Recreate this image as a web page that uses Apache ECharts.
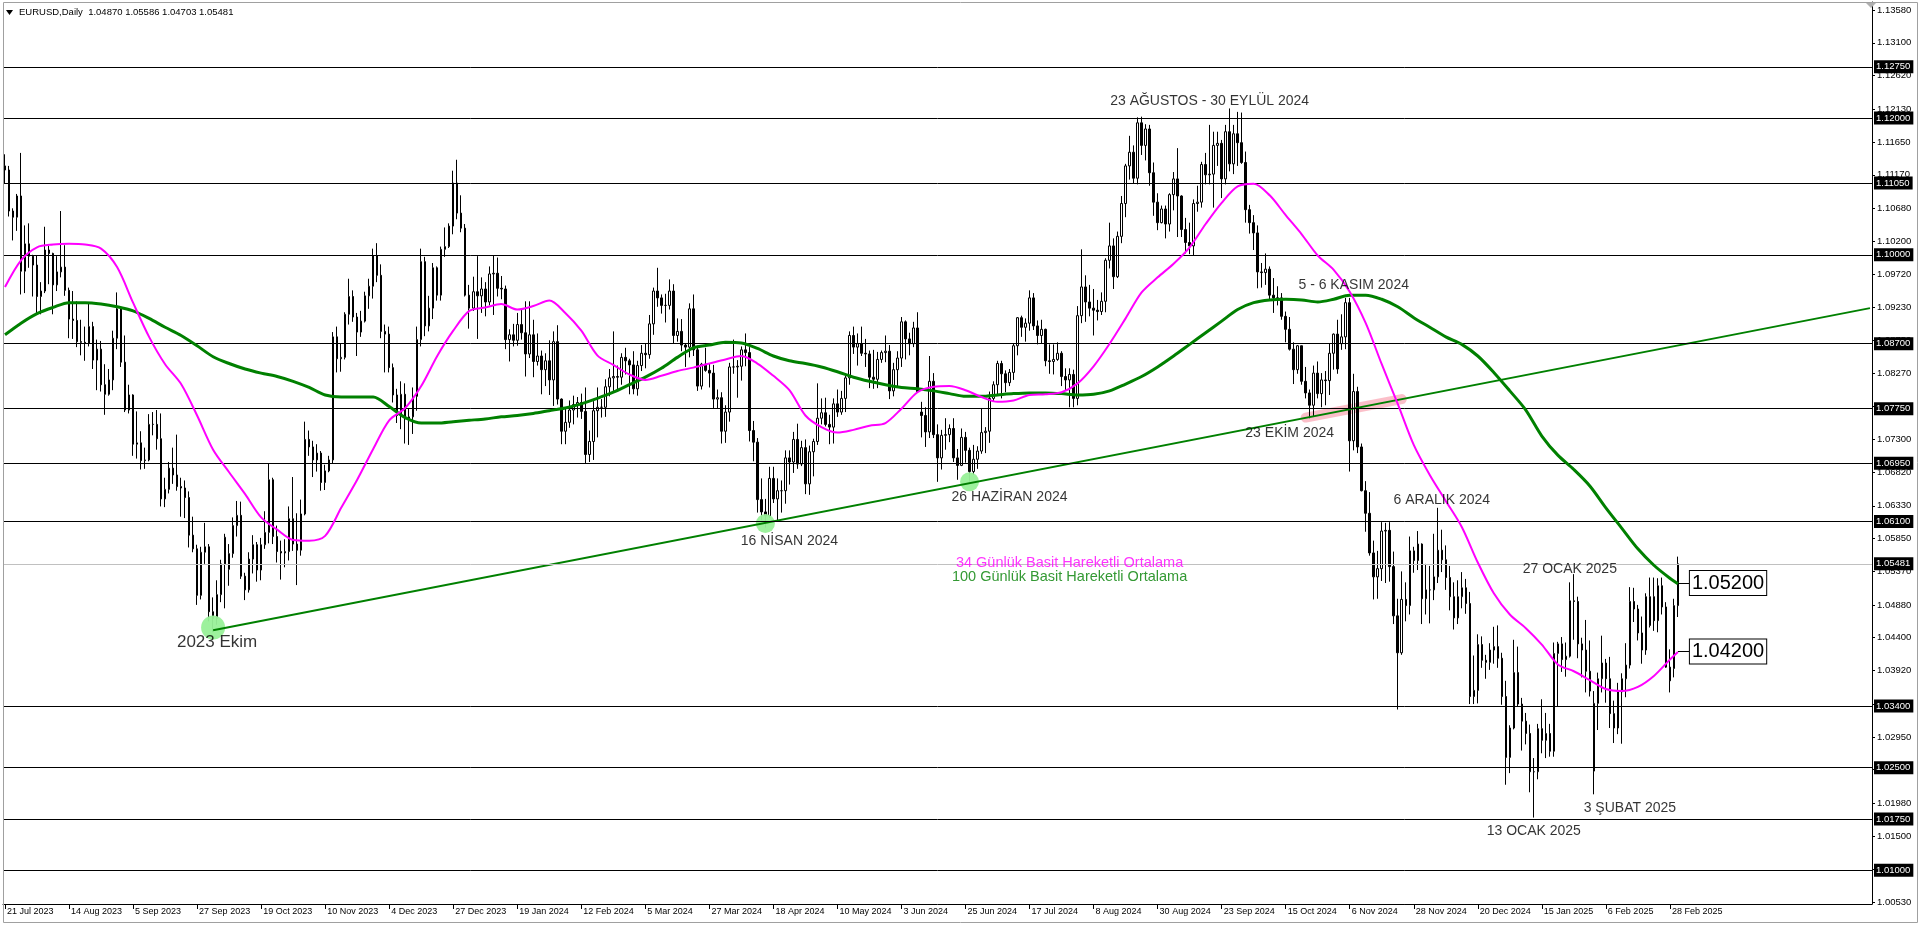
<!DOCTYPE html>
<html><head><meta charset="utf-8">
<script src="https://cdn.jsdelivr.net/npm/echarts@6/dist/echarts.min.js"></script>
<style>html,body{margin:0;padding:0;background:#fff}#c{width:1920px;height:927px}</style>
</head><body><div id="c"></div>
<script>
// ---------- DATA ----------
const symbolTitle = 'EURUSD,Daily';
const startDate = [2023, 6, 21];           // 21 Jul 2023 (first bar)
const holidays = ['2023-12-25','2024-01-01','2024-12-25','2025-01-01'];
const futureSlots = 48;                    // empty bars to the right (chart shift)

// daily candles: [open, high, low, close]
const candles = [
[1.1130,1.1147,1.1105,1.1124],[1.1124,1.1130,1.1056,1.1064],[1.1064,1.1068,1.1021,1.1055],[1.1055,1.1089,1.1035,1.1086],[1.1086,1.1149,1.0942,1.0976],
[1.0976,1.1043,1.0944,1.1016],[1.1016,1.1046,1.0981,1.0998],[1.0998,1.1000,1.0939,1.0985],[1.0985,1.0999,1.0912,1.0939],[1.0939,1.0960,1.0913,1.0947],
[1.0947,1.1041,1.0944,1.1007],[1.1007,1.1013,1.0957,1.1002],[1.1002,1.1003,1.0913,1.0956],[1.0956,1.0998,1.0947,1.0975],[1.0975,1.1064,1.0967,1.0982],
[1.0982,1.1014,1.0940,1.0948],[1.0948,1.0952,1.0878,1.0906],[1.0906,1.0947,1.0877,1.0904],[1.0904,1.0932,1.0865,1.0873],[1.0873,1.0905,1.0853,1.0872],
[1.0872,1.0895,1.0845,1.0871],[1.0871,1.0930,1.0866,1.0895],[1.0895,1.0902,1.0833,1.0846],[1.0846,1.0876,1.0802,1.0862],[1.0862,1.0874,1.0800,1.0810],
[1.0810,1.0840,1.0766,1.0796],[1.0796,1.0833,1.0794,1.0817],[1.0817,1.0889,1.0802,1.0878],[1.0878,1.0945,1.0862,1.0921],[1.0921,1.0925,1.0836,1.0843],
[1.0843,1.0882,1.0770,1.0773],[1.0773,1.0810,1.0768,1.0795],[1.0795,1.0796,1.0706,1.0723],[1.0723,1.0771,1.0702,1.0725],[1.0725,1.0742,1.0686,1.0699],
[1.0699,1.0718,1.0687,1.0700],[1.0700,1.0767,1.0698,1.0752],[1.0752,1.0770,1.0736,1.0752],[1.0752,1.0773,1.0715,1.0731],[1.0731,1.0768,1.0632,1.0643],
[1.0643,1.0674,1.0631,1.0657],[1.0657,1.0697,1.0651,1.0688],[1.0688,1.0718,1.0665,1.0678],[1.0678,1.0737,1.0655,1.0661],[1.0661,1.0674,1.0617,1.0659],
[1.0659,1.0670,1.0615,1.0645],[1.0645,1.0654,1.0572,1.0590],[1.0590,1.0617,1.0565,1.0570],[1.0570,1.0576,1.0488,1.0502],[1.0502,1.0573,1.0496,1.0565],
[1.0565,1.0608,1.0548,1.0573],[1.0573,1.0577,1.0464,1.0478],[1.0478,1.0499,1.0448,1.0468],[1.0468,1.0524,1.0459,1.0503],[1.0503,1.0554,1.0492,1.0548],
[1.0548,1.0592,1.0483,1.0587],[1.0540,1.0577,1.0516,1.0563],[1.0563,1.0616,1.0557,1.0604],[1.0604,1.0640,1.0588,1.0619],[1.0619,1.0639,1.0526,1.0530],
[1.0530,1.0535,1.0495,1.0510],[1.0510,1.0565,1.0506,1.0555],[1.0555,1.0590,1.0534,1.0576],[1.0576,1.0580,1.0522,1.0539],[1.0539,1.0586,1.0524,1.0576],
[1.0576,1.0625,1.0570,1.0594],[1.0594,1.0695,1.0578,1.0671],[1.0671,1.0674,1.0577,1.0588],[1.0588,1.0604,1.0550,1.0566],[1.0566,1.0582,1.0525,1.0564],
[1.0564,1.0584,1.0543,1.0566],[1.0566,1.0632,1.0553,1.0614],[1.0614,1.0675,1.0567,1.0577],[1.0577,1.0622,1.0517,1.0568],[1.0568,1.0642,1.0560,1.0621],
[1.0621,1.0756,1.0619,1.0730],[1.0730,1.0743,1.0706,1.0719],[1.0719,1.0728,1.0675,1.0700],[1.0700,1.0723,1.0683,1.0710],[1.0710,1.0713,1.0655,1.0667],
[1.0667,1.0693,1.0656,1.0684],[1.0684,1.0706,1.0682,1.0700],[1.0700,1.0887,1.0695,1.0880],[1.0880,1.0895,1.0828,1.0848],[1.0848,1.0871,1.0829,1.0850],
[1.0850,1.0916,1.0847,1.0913],[1.0913,1.0965,1.0898,1.0939],[1.0939,1.0948,1.0902,1.0909],[1.0909,1.0915,1.0852,1.0887],[1.0887,1.0918,1.0880,1.0903],
[1.0903,1.0946,1.0901,1.0940],[1.0940,1.0965,1.0921,1.0954],[1.0954,1.1009,1.0936,1.0999],[1.0999,1.1017,1.0960,1.0970],[1.0970,1.0986,1.0878,1.0888],
[1.0888,1.0898,1.0828,1.0884],[1.0884,1.0895,1.0828,1.0835],[1.0835,1.0841,1.0784,1.0795],[1.0795,1.0804,1.0754,1.0765],[1.0765,1.0815,1.0745,1.0796],
[1.0796,1.0812,1.0724,1.0760],[1.0760,1.0775,1.0722,1.0763],[1.0763,1.0806,1.0738,1.0793],[1.0793,1.0895,1.0772,1.0876],[1.0876,1.1009,1.0866,1.0990],
[1.0990,1.0997,1.0881,1.0896],[1.0896,1.0940,1.0888,1.0922],[1.0922,1.0988,1.0906,1.0981],[1.0981,1.0983,1.0933,1.0941],[1.0941,1.1012,1.0933,1.1008],
[1.1008,1.1040,1.0997,1.1012],[1.1012,1.1046,1.1010,1.1042],[1.1042,1.1123,1.1030,1.1105],[1.1105,1.1139,1.1052,1.1061],[1.1061,1.1087,1.1033,1.1039],
[1.1039,1.1045,1.0939,1.0941],[1.0941,1.0956,1.0892,1.0922],[1.0922,1.0968,1.0918,1.0946],[1.0946,1.0998,1.0877,1.0940],[1.0940,1.0967,1.0915,1.0950],
[1.0950,1.0960,1.0910,1.0931],[1.0931,1.0983,1.0926,1.0972],[1.0972,1.0999,1.0912,1.0973],[1.0973,1.0996,1.0939,1.0951],[1.0951,1.0969,1.0935,1.0950],
[1.0950,1.0955,1.0862,1.0876],[1.0876,1.0891,1.0844,1.0883],[1.0883,1.0899,1.0866,1.0875],[1.0875,1.0915,1.0867,1.0898],[1.0898,1.0920,1.0876,1.0886],
[1.0886,1.0932,1.0822,1.0855],[1.0855,1.0932,1.0849,1.0883],[1.0883,1.0905,1.0821,1.0844],[1.0844,1.0885,1.0838,1.0852],[1.0852,1.0860,1.0796,1.0832],
[1.0832,1.0856,1.0808,1.0845],[1.0845,1.0875,1.0795,1.0817],[1.0817,1.0888,1.0779,1.0873],[1.0873,1.0897,1.0781,1.0789],[1.0789,1.0790,1.0723,1.0742],
[1.0742,1.0776,1.0723,1.0755],[1.0755,1.0787,1.0747,1.0773],[1.0773,1.0794,1.0752,1.0781],[1.0781,1.0792,1.0762,1.0784],[1.0784,1.0797,1.0760,1.0771],
[1.0771,1.0806,1.0695,1.0708],[1.0708,1.0743,1.0697,1.0727],[1.0727,1.0786,1.0700,1.0772],[1.0772,1.0806,1.0733,1.0777],[1.0777,1.0789,1.0762,1.0777],
[1.0777,1.0818,1.0763,1.0807],[1.0807,1.0833,1.0793,1.0820],[1.0820,1.0888,1.0801,1.0822],[1.0822,1.0838,1.0802,1.0821],[1.0821,1.0856,1.0810,1.0850],
[1.0850,1.0864,1.0825,1.0845],[1.0845,1.0848,1.0796,1.0839],[1.0839,1.0859,1.0796,1.0804],[1.0804,1.0845,1.0794,1.0838],[1.0838,1.0868,1.0830,1.0856],
[1.0856,1.0870,1.0834,1.0854],[1.0854,1.0912,1.0848,1.0899],[1.0899,1.0952,1.0883,1.0947],[1.0947,1.0981,1.0924,1.0937],[1.0937,1.0942,1.0914,1.0926],
[1.0926,1.0943,1.0901,1.0926],[1.0926,1.0964,1.0920,1.0947],[1.0947,1.0957,1.0870,1.0882],[1.0882,1.0907,1.0873,1.0888],[1.0888,1.0906,1.0859,1.0868],
[1.0868,1.0871,1.0836,1.0865],[1.0865,1.0929,1.0850,1.0921],[1.0921,1.0942,1.0852,1.0861],[1.0861,1.0867,1.0801,1.0808],[1.0808,1.0842,1.0803,1.0840],
[1.0840,1.0864,1.0829,1.0831],[1.0831,1.0841,1.0806,1.0827],[1.0827,1.0839,1.0776,1.0789],[1.0789,1.0803,1.0776,1.0791],[1.0791,1.0799,1.0724,1.0742],
[1.0742,1.0780,1.0725,1.0770],[1.0770,1.0842,1.0756,1.0836],[1.0836,1.0876,1.0826,1.0836],[1.0836,1.0846,1.0791,1.0837],[1.0837,1.0866,1.0816,1.0861],
[1.0861,1.0885,1.0837,1.0857],[1.0857,1.0865,1.0727,1.0743],[1.0743,1.0757,1.0698,1.0726],[1.0726,1.0732,1.0623,1.0642],[1.0642,1.0673,1.0612,1.0624],
[1.0624,1.0643,1.0601,1.0618],[1.0618,1.0690,1.0615,1.0673],[1.0673,1.0690,1.0637,1.0643],[1.0643,1.0673,1.0610,1.0655],[1.0655,1.0670,1.0623,1.0655],
[1.0655,1.0714,1.0636,1.0703],[1.0703,1.0714,1.0664,1.0697],[1.0697,1.0741,1.0681,1.0730],[1.0730,1.0753,1.0687,1.0694],[1.0694,1.0728,1.0691,1.0718],
[1.0718,1.0730,1.0650,1.0665],[1.0665,1.0721,1.0649,1.0712],[1.0712,1.0731,1.0676,1.0727],[1.0727,1.0812,1.0722,1.0761],[1.0761,1.0790,1.0752,1.0769],
[1.0769,1.0791,1.0749,1.0752],[1.0752,1.0766,1.0723,1.0748],[1.0748,1.0790,1.0724,1.0782],[1.0782,1.0803,1.0763,1.0770],[1.0770,1.0801,1.0766,1.0790],
[1.0790,1.0825,1.0770,1.0820],[1.0820,1.0888,1.0810,1.0882],[1.0882,1.0895,1.0855,1.0865],[1.0865,1.0885,1.0838,1.0870],[1.0870,1.0895,1.0852,1.0856],
[1.0856,1.0877,1.0836,1.0855],[1.0855,1.0860,1.0805,1.0821],[1.0821,1.0861,1.0804,1.0818],[1.0818,1.0858,1.0805,1.0847],[1.0847,1.0860,1.0842,1.0857],
[1.0857,1.0882,1.0843,1.0859],[1.0859,1.0868,1.0789,1.0801],[1.0801,1.0842,1.0793,1.0832],[1.0832,1.0859,1.0808,1.0849],[1.0849,1.0909,1.0836,1.0902],
[1.0902,1.0904,1.0847,1.0877],[1.0877,1.0886,1.0853,1.0870],[1.0870,1.0902,1.0865,1.0893],[1.0893,1.0916,1.0799,1.0800],[1.0770,1.0785,1.0733,1.0765],
[1.0765,1.0777,1.0719,1.0741],[1.0741,1.0852,1.0732,1.0815],[1.0815,1.0827,1.0732,1.0737],[1.0737,1.0752,1.0668,1.0703],[1.0703,1.0744,1.0686,1.0736],
[1.0736,1.0761,1.0715,1.0737],[1.0737,1.0752,1.0726,1.0746],[1.0746,1.0761,1.0697,1.0703],[1.0703,1.0716,1.0671,1.0692],[1.0692,1.0746,1.0691,1.0733],
[1.0733,1.0741,1.0696,1.0714],[1.0714,1.0718,1.0668,1.0683],[1.0683,1.0722,1.0678,1.0701],[1.0701,1.0720,1.0687,1.0713],[1.0713,1.0776,1.0709,1.0740],
[1.0740,1.0748,1.0710,1.0742],[1.0742,1.0800,1.0725,1.0790],[1.0790,1.0815,1.0785,1.0810],[1.0810,1.0845,1.0796,1.0841],[1.0841,1.0845,1.0790,1.0826],
[1.0826,1.0831,1.0799,1.0813],[1.0813,1.0833,1.0808,1.0828],[1.0828,1.0871,1.0817,1.0867],[1.0867,1.0909,1.0853,1.0908],[1.0908,1.0911,1.0880,1.0894],
[1.0894,1.0907,1.0873,1.0900],[1.0900,1.0948,1.0889,1.0937],[1.0937,1.0944,1.0890,1.0896],[1.0896,1.0904,1.0869,1.0882],[1.0882,1.0905,1.0871,1.0891],
[1.0891,1.0892,1.0837,1.0845],[1.0845,1.0869,1.0826,1.0844],[1.0844,1.0869,1.0825,1.0847],[1.0847,1.0872,1.0845,1.0856],[1.0856,1.0859,1.0808,1.0822],
[1.0822,1.0834,1.0802,1.0817],[1.0817,1.0834,1.0777,1.0825],[1.0825,1.0832,1.0777,1.0790],[1.0790,1.0925,1.0780,1.0911],[1.0911,1.1008,1.0900,1.0953],
[1.0953,1.0970,1.0902,1.0931],[1.0931,1.0956,1.0910,1.0922],[1.0922,1.0950,1.0882,1.0919],[1.0919,1.0934,1.0904,1.0917],[1.0917,1.0945,1.0912,1.0932],
[1.0932,1.0995,1.0916,1.0992],[1.0992,1.1047,1.0980,1.1013],[1.1013,1.1024,1.0950,1.0968],[1.0968,1.1034,1.0966,1.1027],[1.1027,1.1086,1.1017,1.1075],
[1.1075,1.1133,1.1055,1.1130],[1.1130,1.1174,1.1110,1.1150],[1.1150,1.1160,1.1105,1.1112],[1.1112,1.1201,1.1103,1.1193],[1.1193,1.1202,1.1146,1.1160],
[1.1160,1.1191,1.1138,1.1184],[1.1184,1.1190,1.1101,1.1120],[1.1120,1.1135,1.1057,1.1077],[1.1077,1.1090,1.1036,1.1047],[1.1047,1.1072,1.1046,1.1067],
[1.1067,1.1072,1.1024,1.1045],[1.1045,1.1090,1.1034,1.1088],[1.1088,1.1121,1.1065,1.1111],[1.1111,1.1156,1.1026,1.1086],[1.1086,1.1087,1.1026,1.1037],
[1.1037,1.1054,1.1002,1.1018],[1.1018,1.1047,1.1001,1.1013],[1.1013,1.1081,1.0999,1.1075],[1.1075,1.1101,1.1063,1.1077],[1.1077,1.1136,1.1069,1.1132],
[1.1132,1.1149,1.1103,1.1117],[1.1117,1.1190,1.1103,1.1118],[1.1118,1.1180,1.1069,1.1160],[1.1160,1.1180,1.1130,1.1163],[1.1163,1.1168,1.1083,1.1111],
[1.1111,1.1190,1.1103,1.1180],[1.1180,1.1214,1.1122,1.1133],[1.1133,1.1190,1.1118,1.1177],[1.1177,1.1209,1.1130,1.1164],[1.1164,1.1208,1.1133,1.1135],
[1.1135,1.1151,1.1047,1.1066],[1.1066,1.1073,1.1031,1.1047],[1.1047,1.1058,1.1007,1.1032],[1.1032,1.1043,1.0951,1.0975],[1.0975,1.0988,1.0952,1.0974],
[1.0974,1.1002,1.0956,1.0979],[1.0979,1.0983,1.0935,1.0941],[1.0941,1.0966,1.0915,1.0937],[1.0937,1.0954,1.0926,1.0937],[1.0937,1.0944,1.0905,1.0910],
[1.0910,1.0917,1.0872,1.0891],[1.0891,1.0909,1.0860,1.0862],[1.0862,1.0872,1.0811,1.0832],[1.0832,1.0868,1.0826,1.0867],[1.0867,1.0867,1.0810,1.0815],
[1.0815,1.0836,1.0790,1.0798],[1.0798,1.0803,1.0761,1.0780],[1.0780,1.0838,1.0763,1.0827],[1.0827,1.0844,1.0790,1.0797],[1.0797,1.0827,1.0777,1.0817],
[1.0817,1.0830,1.0780,1.0816],[1.0816,1.0871,1.0795,1.0856],[1.0856,1.0885,1.0832,1.0884],[1.0884,1.0905,1.0826,1.0833],[1.0870,1.0913,1.0861,1.0880],
[1.0880,1.0937,1.0862,1.0930],[1.0930,1.0937,1.0683,1.0728],[1.0728,1.0826,1.0714,1.0800],[1.0800,1.0807,1.0710,1.0719],[1.0719,1.0724,1.0654,1.0655],
[1.0655,1.0669,1.0595,1.0622],[1.0622,1.0653,1.0560,1.0564],[1.0564,1.0582,1.0496,1.0529],[1.0529,1.0567,1.0497,1.0541],[1.0541,1.0609,1.0523,1.0596],
[1.0596,1.0608,1.0520,1.0597],[1.0597,1.0609,1.0522,1.0544],[1.0544,1.0566,1.0460,1.0472],[1.0472,1.0497,1.0335,1.0418],[1.0418,1.0537,1.0415,1.0496],
[1.0496,1.0521,1.0464,1.0487],[1.0487,1.0588,1.0474,1.0567],[1.0567,1.0573,1.0535,1.0553],[1.0553,1.0596,1.0539,1.0577],[1.0577,1.0578,1.0460,1.0497],
[1.0497,1.0548,1.0474,1.0510],[1.0510,1.0545,1.0461,1.0510],[1.0510,1.0592,1.0495,1.0529],[1.0529,1.0630,1.0520,1.0568],[1.0568,1.0598,1.0536,1.0554],
[1.0554,1.0575,1.0510,1.0528],[1.0528,1.0545,1.0480,1.0500],[1.0500,1.0521,1.0452,1.0469],[1.0469,1.0524,1.0460,1.0500],[1.0500,1.0536,1.0483,1.0513],
[1.0513,1.0526,1.0475,1.0490],[1.0490,1.0507,1.0343,1.0354],[1.0354,1.0414,1.0343,1.0363],[1.0363,1.0445,1.0344,1.0430],[1.0430,1.0442,1.0396,1.0407],
[1.0407,1.0415,1.0380,1.0404],[1.0404,1.0432,1.0393,1.0422],[1.0422,1.0456,1.0402,1.0427],[1.0427,1.0458,1.0396,1.0410],[1.0410,1.0418,1.0342,1.0354],
[1.0354,1.0377,1.0225,1.0265],[1.0265,1.0312,1.0242,1.0308],[1.0308,1.0437,1.0306,1.0389],[1.0389,1.0427,1.0340,1.0343],[1.0343,1.0352,1.0275,1.0318],
[1.0318,1.0330,1.0284,1.0300],[1.0300,1.0313,1.0214,1.0244],[1.0244,1.0264,1.0177,1.0244],[1.0244,1.0314,1.0233,1.0307],[1.0307,1.0350,1.0271,1.0290],
[1.0290,1.0330,1.0264,1.0300],[1.0300,1.0314,1.0266,1.0274],[1.0274,1.0433,1.0266,1.0417],[1.0417,1.0434,1.0339,1.0431],[1.0431,1.0441,1.0390,1.0408],
[1.0408,1.0433,1.0383,1.0413],[1.0413,1.0521,1.0411,1.0494],[1.0494,1.0533,1.0437,1.0493],[1.0493,1.0500,1.0410,1.0431],[1.0431,1.0440,1.0382,1.0422],
[1.0422,1.0466,1.0360,1.0391],[1.0391,1.0436,1.0354,1.0362],[1.0245,1.0362,1.0211,1.0344],[1.0344,1.0389,1.0305,1.0380],[1.0380,1.0443,1.0360,1.0403],
[1.0403,1.0409,1.0345,1.0380],[1.0380,1.0412,1.0308,1.0329],[1.0329,1.0348,1.0286,1.0308],[1.0308,1.0374,1.0299,1.0361],[1.0361,1.0388,1.0285,1.0380],
[1.0380,1.0432,1.0353,1.0400],[1.0400,1.0514,1.0395,1.0493],[1.0493,1.0513,1.0463,1.0482],[1.0482,1.0488,1.0436,1.0447],[1.0447,1.0471,1.0402,1.0422],
[1.0422,1.0505,1.0415,1.0500],[1.0500,1.0528,1.0455,1.0458],[1.0500,1.0528,1.0450,1.0465],[1.0465,1.0527,1.0448,1.0516],[1.0516,1.0528,1.0474,1.0485],
[1.0485,1.0492,1.0396,1.0397],[1.0397,1.0423,1.0360,1.0377],[1.0395,1.0497,1.0382,1.0487],[1.04870,1.05586,1.04703,1.05481]
];

// 34-day simple moving average: [bar index, value]
const ma34Points = [
[0,1.0953],[4,1.0992],[8,1.1011],[12,1.1015],[16,1.1016],[20,1.1015],[24,1.1009],[28,1.0982],[32,1.0930],[36,1.0880],
[40,1.0840],[44,1.0811],[48,1.0765],[52,1.0715],[56,1.0682],[60,1.0650],[64,1.0616],[68,1.0598],[72,1.0583],[76,1.0582],
[80,1.0589],[84,1.0630],[88,1.0671],[92,1.0716],[96,1.0758],[100,1.0776],[104,1.0808],[108,1.0852],[112,1.0889],[116,1.0918],
[120,1.0923],[124,1.0928],[128,1.0920],[132,1.0925],[136,1.0933],[140,1.0915],[144,1.0889],[148,1.0853],[152,1.0839],[156,1.0825],
[160,1.0817],[164,1.0823],[168,1.0830],[172,1.0835],[176,1.0841],[180,1.0847],[184,1.0852],[188,1.0841],[192,1.0823],[196,1.0802],
[200,1.0765],[204,1.0748],[208,1.0740],[212,1.0744],[216,1.0750],[220,1.0754],[224,1.0775],[228,1.0799],[232,1.0807],[236,1.0808],
[240,1.0802],[244,1.0792],[248,1.0785],[252,1.0787],[256,1.0795],[260,1.0796],[264,1.0799],[268,1.0812],[272,1.0837],[276,1.0870],
[280,1.0907],[284,1.0945],[288,1.0967],[292,1.0987],[296,1.1011],[300,1.1045],[304,1.1076],[308,1.1100],[312,1.1104],[316,1.1087],
[320,1.1058],[324,1.1030],[328,1.0999],[332,1.0978],[336,1.0946],[340,1.0900],[344,1.0840],[348,1.0782],[352,1.0722],[356,1.0678],
[360,1.0640],[364,1.0602],[368,1.0550],[372,1.0505],[376,1.0474],[380,1.0454],[384,1.0430],[388,1.0401],[392,1.0391],[396,1.0378],
[400,1.0365],[404,1.0362],[408,1.0368],[412,1.0384],[416,1.0408],[418,1.0419]
];

// 100-day simple moving average: [bar index, value]
const ma100Points = [
[0,1.0883],[4,1.0900],[8,1.0914],[12,1.0923],[16,1.0930],[20,1.0930],[24,1.0928],[28,1.0924],[32,1.0918],[36,1.0907],
[40,1.0894],[44,1.0882],[48,1.0867],[52,1.0851],[56,1.0841],[60,1.0833],[64,1.0827],[68,1.0822],[72,1.0815],[76,1.0806],
[80,1.0795],[84,1.0792],[88,1.0792],[92,1.0792],[96,1.0778],[100,1.0762],[104,1.0754],[108,1.0754],[112,1.0756],[116,1.0758],
[120,1.0760],[124,1.0763],[128,1.0765],[132,1.0768],[136,1.0772],[140,1.0776],[144,1.0782],[148,1.0790],[152,1.0799],[156,1.0810],
[160,1.0821],[164,1.0834],[168,1.0850],[172,1.0864],[176,1.0868],[180,1.0872],[184,1.0871],[188,1.0863],[192,1.0852],[196,1.0845],
[200,1.0841],[204,1.0836],[208,1.0829],[212,1.0821],[216,1.0815],[220,1.0810],[224,1.0806],[228,1.0804],[232,1.0801],[236,1.0797],
[240,1.0793],[244,1.0793],[248,1.0795],[252,1.0797],[256,1.0798],[260,1.0798],[264,1.0797],[268,1.0795],[272,1.0796],[276,1.0801],
[280,1.0811],[284,1.0822],[288,1.0836],[292,1.0852],[296,1.0869],[300,1.0886],[304,1.0903],[308,1.0920],[312,1.0930],[316,1.0934],
[320,1.0935],[324,1.0934],[328,1.0931],[332,1.0935],[336,1.0941],[340,1.0941],[344,1.0935],[348,1.0924],[352,1.0908],[356,1.0894],
[360,1.0880],[364,1.0869],[368,1.0852],[372,1.0828],[376,1.0801],[380,1.0773],[384,1.0735],[388,1.0707],[392,1.0686],[396,1.0662],
[400,1.0630],[404,1.0600],[408,1.0570],[412,1.0546],[416,1.0527],[418,1.0519]
];

// horizontal support / resistance levels
const levels = [1.12750, 1.12000, 1.11050, 1.10000, 1.08700, 1.07750, 1.06950, 1.06100, 1.03400, 1.02500, 1.01750, 1.01000];
const currentPrice = 1.05481;
const ohlcHeader = [1.04870, 1.05586, 1.04703, 1.05481];

// price scale ticks on the right axis
const yTicks = [1.13580,1.13100,1.12620,1.12130,1.11650,1.11170,1.10680,1.10200,1.09720,1.09230,1.08750,1.08270,1.07780,
                1.07300,1.06820,1.06330,1.05850,1.05370,1.04880,1.04400,1.03920,1.03430,1.02950,1.02470,1.01980,1.01500,1.01010,1.00530];
const yRange = [1.00506, 1.13697];

// rising trend line (bar index, price) and the touches marked on it
const trendPoints = [[52, 1.0451], [466, 1.0922]];
const touchPoints = [[52, 1.0455], [190, 1.0607], [241, 1.0668]];
const breakZone = [[325, 1.0762], [349, 1.0789]];

// moving-average value boxes: [ma name, value, from bar, to bar]
const maBoxes = [['ma100', 1.05200, 418, 421], ['ma34', 1.04200, 418, 421]];

// chart annotations: [text, bar index, price, kind]
const annotations = [
  ['2023 Ekim', 53, 1.0433, 'big'],
  ['16 NİSAN 2024', 196, 1.0581, 'note'],
  ['26 HAZİRAN 2024', 251, 1.0646, 'note'],
  ['23 AĞUSTOS - 30 EYLÜL 2024', 301, 1.1224, 'note'],
  ['5 - 6 KASIM 2024', 337, 1.0956, 'note'],
  ['23 EKİM 2024', 321, 1.0739, 'note'],
  ['6 ARALIK 2024', 359, 1.0641, 'note'],
  ['27 OCAK 2025', 391, 1.0540, 'note'],
  ['13 OCAK 2025', 382, 1.0157, 'note'],
  ['3 ŞUBAT 2025', 406, 1.0191, 'note'],
  ['34 Günlük Basit Hareketli Ortalama', 266, 1.0549, 'ma34'],
  ['100 Günlük Basit Hareketli Ortalama', 266, 1.0529, 'ma100']
];

// ---------- BUILD ----------
const FONT = 'Liberation Sans, Arial, sans-serif';
const MONTHS = ['Jan','Feb','Mar','Apr','May','Jun','Jul','Aug','Sep','Oct','Nov','Dec'];
const dates = [];
let d = new Date(Date.UTC(startDate[0], startDate[1], startDate[2]));
while (dates.length < candles.length) {
  const iso = d.toISOString().slice(0, 10), dow = d.getUTCDay();
  if (dow !== 0 && dow !== 6 && holidays.indexOf(iso) < 0)
    dates.push(d.getUTCDate() + ' ' + MONTHS[d.getUTCMonth()] + ' ' + d.getUTCFullYear());
  d = new Date(d.getTime() + 86400000);
}
const nBars = candles.length;
const categories = dates.concat(Array.from({length: futureSlots}, (_, k) => '+' + (k + 1)));
const showTick = (idx) => idx % 16 === 0 && idx < nBars;

const colors = { ma34: '#ff00ff', ma100: '#008000', note: '#000000', big: '#000000' };
const fontSizes = { big: 17, note: 14, ma34: 14.5, ma100: 14.5 };

const boxLabel = {
  show: true, position: 'end', distance: 2, color: '#fff', backgroundColor: '#000',
  fontSize: 9.5, fontFamily: FONT, padding: [2, 3, 1, 2], lineHeight: 10
};

const levelLines = levels.map(v => ({
  yAxis: v, lineStyle: { color: '#000', width: 1, type: 'solid' },
  label: Object.assign({}, boxLabel, { formatter: v.toFixed(5) })
})).concat([{
  yAxis: currentPrice, lineStyle: { color: '#c0c0c0', width: 1, type: 'solid' },
  label: Object.assign({}, boxLabel, { formatter: currentPrice.toFixed(5) })
}]);

function boxMark(name) {
  const b = maBoxes.find(x => x[0] === name);
  return {
    silent: true, symbol: ['none', 'none'], animation: false, precision: 6,
    lineStyle: { color: '#000', width: 1, type: 'solid' },
    label: {
      show: true, position: 'end', distance: 0, formatter: b[1].toFixed(5),
      fontSize: 20, fontFamily: FONT, color: '#000', backgroundColor: '#fff',
      borderColor: '#000', borderWidth: 1, padding: [2, 2, 0, 2], lineHeight: 22
    },
    data: [[{ coord: [b[2], b[1]] }, { coord: [b[3], b[1]] }]]
  };
}

const option = {
  animation: false,
  backgroundColor: '#fff',
  grid: { left: 3, right: 48, top: 2, bottom: 23 },
  xAxis: {
    type: 'category', data: categories, boundaryGap: true,
    axisLine: { show: true, lineStyle: { color: '#000', width: 1 } },
    axisTick: { show: true, alignWithLabel: true, interval: showTick, length: 5, lineStyle: { color: '#000' } },
    axisLabel: {
      interval: showTick, align: 'left', margin: 3, padding: [0, 0, 0, 2], fontSize: 9,
      color: '#000', fontFamily: FONT, formatter: v => (v.charAt(0) === '+' ? '' : v)
    },
    splitLine: { show: false }
  },
  yAxis: {
    type: 'value', position: 'right', min: yRange[0], max: yRange[1],
    splitLine: { show: false },
    axisLine: { show: true, lineStyle: { color: '#000', width: 1 } },
    axisTick: { show: true, length: 3, customValues: yTicks, lineStyle: { color: '#000' } },
    axisLabel: { customValues: yTicks, formatter: v => v.toFixed(5), fontSize: 9.5, color: '#000', margin: 5, fontFamily: FONT }
  },
  graphic: [
    { type: 'rect', silent: true, z: 100, shape: { x: 3.5, y: 2.5, width: 1914, height: 920 },
      style: { fill: null, stroke: '#a0a0a0', lineWidth: 1 } },
    { type: 'polygon', silent: true, z: 100, shape: { points: [[6, 10], [13, 10], [9.5, 15]] }, style: { fill: '#000' } },
    { type: 'text', silent: true, z: 100, left: 19, top: 7,
      style: { text: symbolTitle + '  ' + ohlcHeader.map(v => v.toFixed(5)).join(' '), fontSize: 9.5, fontFamily: FONT, fill: '#000' } },
    { type: 'polygon', silent: true, z: 100, shape: { points: [[1866, 3], [1876, 3], [1871, 8]] }, style: { fill: '#b0b0b0' } }
  ],
  series: [
    {
      name: 'EURUSD', type: 'candlestick', barWidth: 2, z: 2,
      data: candles.map(c => [c[0], c[3], c[2], c[1]]),
      itemStyle: { color: '#ffffff', color0: '#000000', borderColor: '#000000', borderColor0: '#000000', borderWidth: 1 }
    },
    {
      name: 'breakZone', type: 'line', z: 1, silent: true, showSymbol: false,
      data: breakZone, lineStyle: { color: '#fbbcc6', width: 10, cap: 'round', opacity: 0.95 }
    },
    {
      name: 'touches', type: 'scatter', z: 3, silent: true,
      data: touchPoints.map((p, k) => ({ value: p, symbolSize: k === 0 ? 24 : 19 })),
      itemStyle: { color: '#98f098', opacity: 0.95 }
    },
    {
      name: 'trend', type: 'line', z: 4, silent: true, showSymbol: false,
      data: trendPoints, lineStyle: { color: '#008000', width: 2 },
      markLine: { silent: true, symbol: ['none', 'none'], animation: false, precision: 6, data: levelLines }
    },
    {
      name: 'ma100', type: 'line', z: 5, silent: true, showSymbol: false, smooth: 0.3,
      data: ma100Points, lineStyle: { color: colors.ma100, width: 3 },
      markLine: boxMark('ma100')
    },
    {
      name: 'ma34', type: 'line', z: 6, silent: true, showSymbol: false, smooth: 0.3,
      data: ma34Points, lineStyle: { color: colors.ma34, width: 2 },
      markLine: boxMark('ma34')
    },
    {
      name: 'notes', type: 'scatter', z: 7, silent: true, symbol: 'rect', symbolSize: 1,
      itemStyle: { color: 'rgba(0,0,0,0)' },
      data: annotations.map(a => ({
        value: [a[1], a[2]],
        label: { show: true, position: 'inside', formatter: a[0], color: colors[a[3]], fontSize: fontSizes[a[3]], fontFamily: FONT }
      }))
    }
  ]
};

const chart = echarts.init(document.getElementById('c'), null, { renderer: 'canvas', width: 1920, height: 927 });
chart.setOption(option);
</script>
</body></html>
